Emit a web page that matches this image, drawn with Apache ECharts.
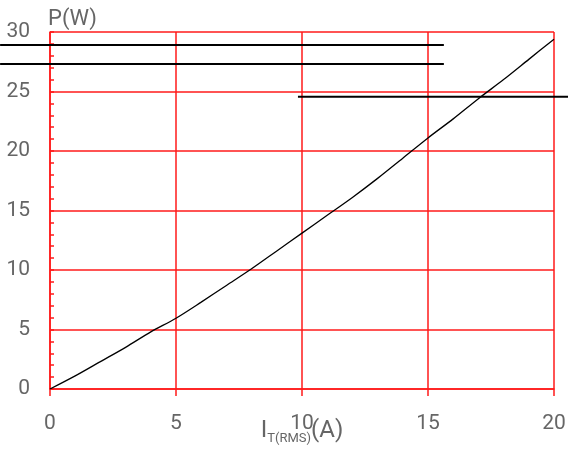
<!DOCTYPE html>
<html><head><meta charset="utf-8">
<script src="https://cdn.jsdelivr.net/npm/echarts@6/dist/echarts.min.js"></script>
<style>html,body{margin:0;padding:0;background:#fff}#c{width:568px;height:454px}</style>
</head><body><div id="c"></div>
<script>
const xValues = [0,1,2,3,4,5,6,7,8,9,10,11,12,13,14,15,16,17,18,19,20];
const powerValues = [0,1.1,2.3,3.5,4.8,5.95,7.3,8.7,10.1,11.6,13.1,14.6,16.1,17.7,19.4,21.1,22.7,24.4,26.0,27.7,29.4];
const line1 = [[-1.98,28.91],[15.63,28.91]];
const line2 = [[-1.98,27.31],[15.63,27.31]];
const line3 = [[9.84,24.56],[20.56,24.56]];
const xTicks = [0,5,10,15,20];
const yTicks = [0,5,10,15,20,25,30];
const overlayRange = [-1.984, 20.556];

const FONT = "Roboto, 'Liberation Sans Narrow', sans-serif";
const RED = '#ff1a1a';
const GRAY = '#666';
const chart = echarts.init(document.getElementById('c'), null, {renderer:'canvas'});
const hline = d => ({type:'line', data:d, showSymbol:false, silent:true, xAxisIndex:1, yAxisIndex:1,
  lineStyle:{color:'#000', width:2}, z:5});
chart.setOption({
  animation:false,
  grid:[
    {left:50, right:14, top:32, bottom:65, containLabel:false, outerBoundsMode:'none'},
    {left:0, right:0, top:32, bottom:65, containLabel:false, outerBoundsMode:'none'}
  ],
  xAxis:[{type:'value', gridIndex:0, min:xTicks[0], max:xTicks[xTicks.length-1], interval:5,
    axisLine:{show:true, lineStyle:{color:RED, width:1.5}},
    axisTick:{show:true, inside:false, length:7, lineStyle:{color:RED, width:1.5}},
    splitLine:{show:true, lineStyle:{color:RED, width:1.5}},
    axisLabel:{color:GRAY, fontFamily:FONT, fontSize:21, margin:24},
    name:'{a|I}{b|T(RMS)}{a|(A)}', nameLocation:'middle', nameGap:30, nameMoveOverlap:false,
    nameTextStyle:{rich:{
      a:{fontFamily:FONT, fontSize:24, color:GRAY, verticalAlign:'top', lineHeight:26},
      b:{fontFamily:FONT, fontSize:13, color:GRAY, verticalAlign:'bottom', padding:[14,0,0,0], lineHeight:26}
    }}
  },
  {type:'value', gridIndex:1, min:overlayRange[0], max:overlayRange[1], show:false}],
  yAxis:[{type:'value', gridIndex:0, min:yTicks[0], max:yTicks[yTicks.length-1], interval:5,
    axisLine:{show:true, lineStyle:{color:RED, width:1.5}},
    axisTick:{show:true, inside:true, length:4, lineStyle:{color:RED, width:1.5}},
    minorTick:{show:true, splitNumber:5, length:4, lineStyle:{color:RED, width:1.5}},
    splitLine:{show:true, lineStyle:{color:RED, width:1.5}},
    axisLabel:{color:GRAY, fontFamily:FONT, fontSize:21, margin:20},
    name:'P(W)', nameLocation:'end', nameGap:2, nameMoveOverlap:false,
    nameTextStyle:{color:GRAY, fontFamily:FONT, fontSize:22, align:'left', verticalAlign:'bottom', padding:[0,0,0,-2]}
  },
  {type:'value', gridIndex:1, min:yTicks[0], max:yTicks[yTicks.length-1], show:false}],
  series:[
    {type:'line', data:xValues.map((x,i)=>[x,powerValues[i]]), smooth:0.3, showSymbol:false,
      lineStyle:{color:'#000', width:1.3}, z:4},
    hline(line1), hline(line2), hline(line3)
  ]
});
</script></body></html>
